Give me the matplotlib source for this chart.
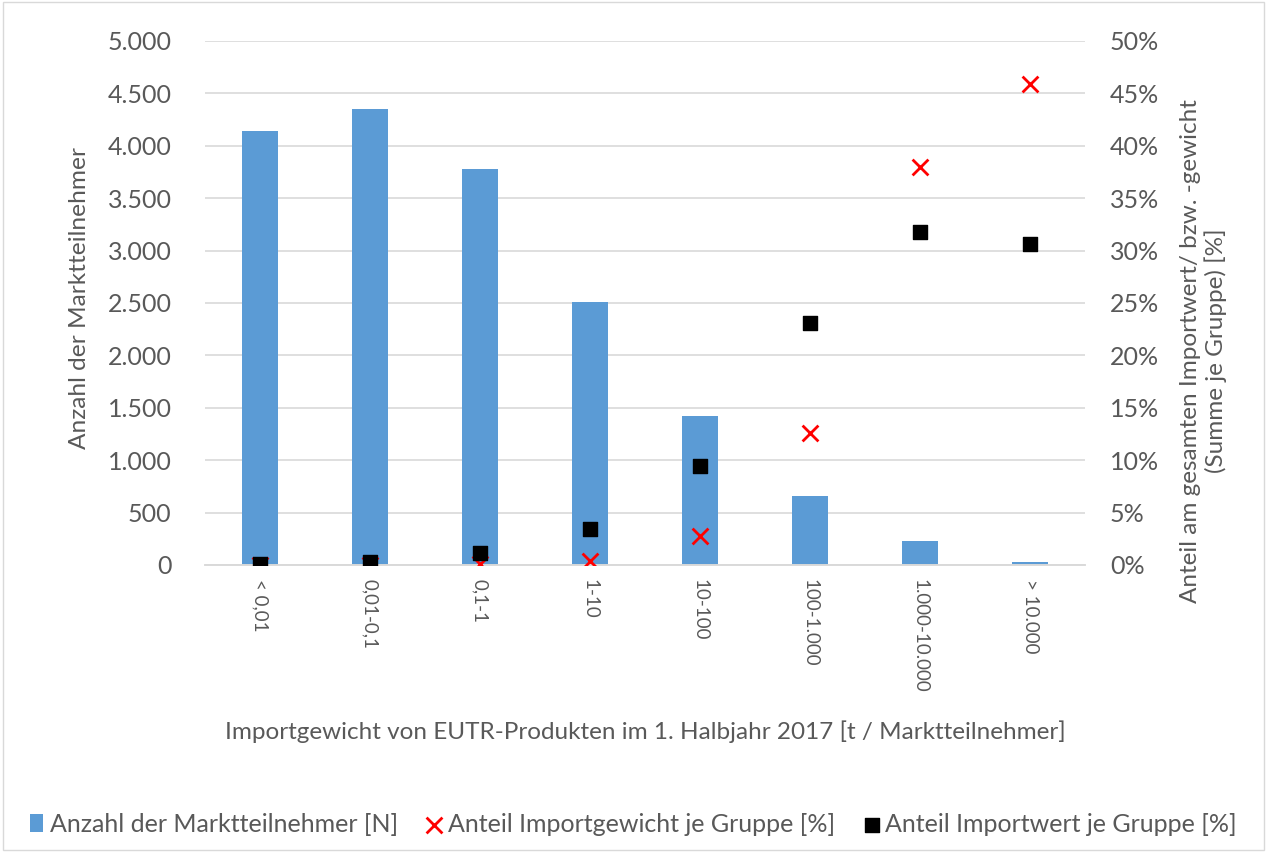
import matplotlib

matplotlib.use("Agg")
import matplotlib.pyplot as plt
from matplotlib.ticker import FuncFormatter, MultipleLocator

plt.rcParams["font.family"] = ["Lato", "DejaVu Sans"]

# Data
categories = ["< 0,01", "0,01-0,1", "0,1-1", "1-10", "10-100",
              "100-1.000", "1.000-10.000", "> 10.000"]
anzahl = [4140, 4350, 3780, 2510, 1420, 660, 225, 30]
anteil_gewicht = [0.0, 0.0, 0.1, 0.4, 2.8, 12.6, 38.0, 45.9]
anteil_wert = [0.05, 0.25, 1.1, 3.4, 9.4, 23.1, 31.8, 30.6]

TEXT = "#595959"
BLUE = "#5B9BD5"
GRID = "#D9D9D9"

fig = plt.figure(figsize=(12.67, 8.52), dpi=100)
ax = fig.add_axes([0.1618, 0.3369, 0.6946, 0.615])
ax2 = ax.twinx()

x = list(range(len(categories)))

ax.bar(x, anzahl, width=0.32, color=BLUE, zorder=2,
       label="Anzahl der Marktteilnehmer [N]")
ax.set_ylim(0, 5000)
ax.set_xlim(-0.5, len(categories) - 0.5)
ax.yaxis.set_major_locator(MultipleLocator(500))
ax.yaxis.set_major_formatter(
    FuncFormatter(lambda v, _: f"{int(v):,}".replace(",", ".")))
ax.grid(axis="y", color=GRID, linewidth=1.2, zorder=0)
ax.set_axisbelow(True)

ax2.scatter(x, anteil_gewicht, marker="x", s=130, color="#FF0000",
            linewidths=2, zorder=4, label="Anteil Importgewicht je Gruppe [%]")
ax2.scatter(x, anteil_wert, marker="s", s=110, color="black",
            zorder=5, label="Anteil Importwert je Gruppe [%]")
ax2.set_ylim(0, 50)
ax2.yaxis.set_major_locator(MultipleLocator(5))
ax2.yaxis.set_major_formatter(FuncFormatter(lambda v, _: f"{int(v)}%"))

for a in (ax, ax2):
    for side in ("top", "left", "right"):
        a.spines[side].set_visible(False)
    a.spines["bottom"].set_color(GRID)
    a.spines["bottom"].set_linewidth(1.2)
    a.tick_params(axis="y", length=0, labelsize=18, labelcolor=TEXT)
ax.tick_params(axis="y", pad=24)
ax2.tick_params(axis="y", pad=18)

ax.set_xticks(x)
ax.set_xticklabels(categories, rotation=-90, fontsize=13.5, color=TEXT)
ax.tick_params(axis="x", length=0, pad=10)

ax.set_ylabel("Anzahl der Marktteilnehmer", fontsize=17.6, color=TEXT)
ax.yaxis.set_label_coords(-0.131, 0.51)
ax2.set_ylabel("Anteil am gesamten Importwert/ bzw. -gewicht\n(Summe je Gruppe) [%]",
               fontsize=17.5, color=TEXT, rotation=90)
ax2.yaxis.set_label_coords(1.108, 0.408)
ax.set_xlabel("Importgewicht von EUTR-Produkten im 1. Halbjahr 2017 [t / Marktteilnehmer]",
              fontsize=17.5, color=TEXT, labelpad=20)

h1, l1 = ax.get_legend_handles_labels()
h2, l2 = ax2.get_legend_handles_labels()
leg = fig.legend(h1 + h2, l1 + l2, loc="lower center", ncol=3,
                 bbox_to_anchor=(0.5, 0.0), frameon=False, fontsize=18,
                 handlelength=0.5, handletextpad=0.3, columnspacing=1.2,
                 labelcolor=TEXT, borderaxespad=0.25)

# light frame around the whole chart area
fig.patches.append(plt.Rectangle((0.002, 0.002), 0.996, 0.996,
                                 transform=fig.transFigure, fill=False,
                                 edgecolor=GRID, linewidth=1))

fig.savefig("out.png", dpi=100, facecolor="white")
